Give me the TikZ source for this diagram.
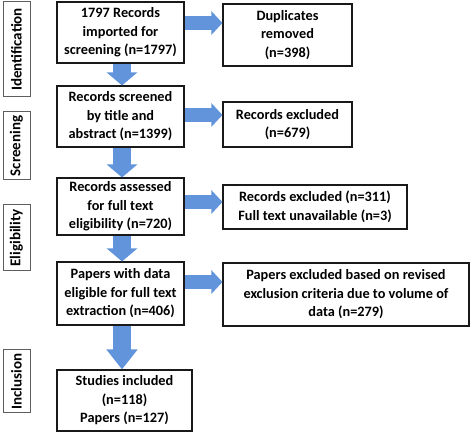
\documentclass[tikz,border=0pt]{standalone}
\usepackage{fontspec}
\setmainfont{Carlito}
\usepackage{xcolor}
\usepackage{tikz}
\usetikzlibrary{shapes,arrows,positioning,calc,arrows.meta}
\definecolor{flowblue}{RGB}{98,148,220}
\definecolor{boxline}{RGB}{25,25,25}

\begin{document}
\begin{tikzpicture}[x=1pt,y=-1pt,
    box/.style={draw=boxline, line width=1.1pt, align=center, inner sep=1pt,
        font=\fontsize{14.3}{18.5}\selectfont\bfseries},
    phase/.style={draw=boxline!70, line width=1pt, rotate=90, inner sep=1pt,
        font=\fontsize{15}{18}\selectfont\bfseries, minimum height=27},
    rarrow/.style={draw=flowblue, line width=14pt, -{Triangle[width=23pt,length=11pt]}},
    darrow/.style={draw=flowblue, line width=18pt, -{Triangle[width=30pt,length=13pt]}}]
    \useasboundingbox (0,0) rectangle (472,435);

    % phases
    \node[phase, minimum width=95] (ident) at (16.5,49.5) {Identification};
    \node[phase, minimum width=68] (screen) at (16.5,146) {Screening};
    \node[phase, minimum width=66] (elig) at (16.5,238) {Eligibility};
    \node[phase, minimum width=63] (incl) at (16.5,381.5) {Inclusion};

    % main column
    \node[box, minimum width=127, minimum height=61] (b1) at (120.5,32.5) {1797 Records\\imported for\\screening (n=1797)};
    \node[box, minimum width=127, minimum height=61] (b2) at (120.5,116.5) {Records screened\\by title and\\abstract (n=1399)};
    \node[box, minimum width=127, minimum height=57] (b3) at (120.5,206.5) {Records assessed\\for full text\\eligibility (n=720)};
    \node[box, minimum width=127, minimum height=63] (b4) at (120.5,293.5) {Papers with data\\eligible for full text\\extraction (n=406)};
    \node[box, minimum width=135, minimum height=61] (b5) at (124.5,400.5) {Studies included\\(n=118)\\Papers (n=127)};

    % exclusions
    \node[box, minimum width=129, minimum height=62] (dup) at (287.5,35) {Duplicates\\removed\\(n=398)};
    \node[box, minimum width=129, minimum height=45] (ex1) at (287.5,124.5) {Records excluded\\(n=679)};
    \node[box, minimum width=184, minimum height=44] (ex2) at (315,207) {Records excluded (n=311)\\Full text unavailable (n=3)};
    \node[box, minimum width=246, minimum height=63] (ex3) at (346,294.5) {Papers excluded based on revised\\exclusion criteria due to volume of\\data (n=279)};

    % arrows down
    \draw[darrow] ([xshift=1.5pt]b1.south) -- ([xshift=1.5pt]b1.south |- b2.north);
    \draw[darrow] ([xshift=1.5pt]b2.south) -- ([xshift=1.5pt]b2.south |- b3.north);
    \draw[darrow] ([xshift=1.5pt]b3.south) -- ([xshift=1.5pt]b3.south |- b4.north);
    \draw[darrow, -{Triangle[width=30pt,length=20pt]}] ([xshift=1.5pt]b4.south) -- ([xshift=1.5pt]b4.south |- b5.north);

    % arrows right
    \draw[rarrow] ([yshift=9.5pt]b1.east) -- ([yshift=9.5pt]b1.east -| dup.west);
    \draw[rarrow] ([yshift=1.5pt]b2.east) -- ([yshift=1.5pt]b2.east -| ex1.west);
    \draw[rarrow] ([yshift=4.5pt]b3.east) -- ([yshift=4.5pt]b3.east -| ex2.west);
    \draw[rarrow] ([yshift=11.5pt]b4.east) -- ([yshift=11.5pt]b4.east -| ex3.west);
\end{tikzpicture}
\end{document}
